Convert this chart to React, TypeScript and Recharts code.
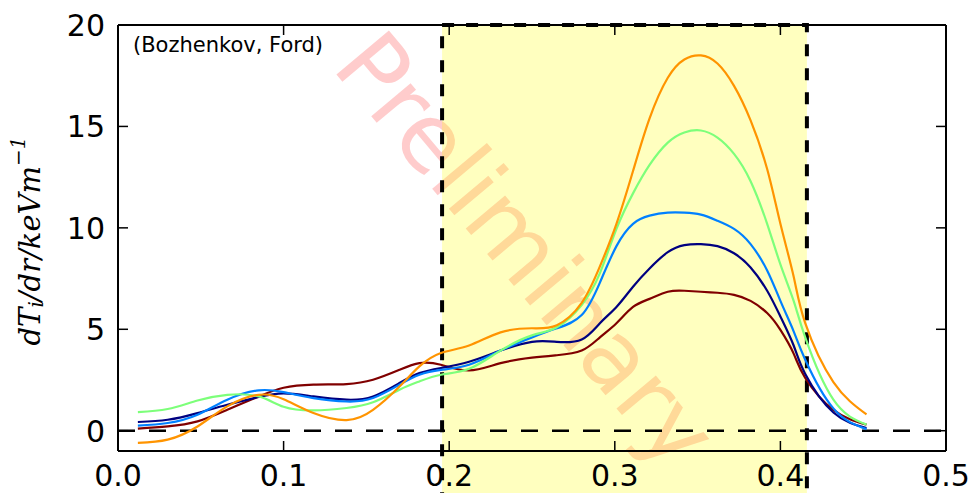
import React from 'react';
import { LineChart, Line, XAxis, YAxis, ReferenceArea, ReferenceLine } from 'recharts';

// radius grid (normalised) shared by all profiles
const radius = [
  0.012, 0.03, 0.048, 0.066, 0.085, 0.1, 0.118, 0.138, 0.154, 0.17, 0.182,
  0.195, 0.212, 0.231, 0.25, 0.265, 0.28, 0.291, 0.301, 0.311, 0.321, 0.332,
  0.342, 0.352, 0.362, 0.372, 0.382, 0.392, 0.4, 0.408, 0.415, 0.432, 0.452,
];

// dTi/dr profiles, one per colour of the jet map
const profileOrange = [
  -0.6, -0.44, 0.21, 1.2, 1.77, 1.55, 0.87, 0.52, 1.03, 2.18, 3.17,
  3.83, 4.2, 4.85, 5.05, 5.2, 6.3, 8.1, 10.2, 12.8, 15.4, 17.4,
  18.3, 18.5, 18.1, 17.0, 15.3, 12.9, 10.2, 7.6, 5.3, 2.4, 0.8,
];
const profileGreen = [
  0.92, 1.07, 1.49, 1.77, 1.69, 1.18, 1.0, 1.12, 1.4, 2.02, 2.43,
  2.76, 3.05, 3.95, 4.7, 5.1, 6.2, 7.77, 9.95, 11.7, 13.1, 14.2,
  14.7, 14.8, 14.45, 13.65, 12.3, 10.2, 8.2, 6.4, 4.6, 1.53, 0.3,
];
const profileBlue = [
  0.25, 0.38, 0.79, 1.53, 1.99, 1.9, 1.61, 1.44, 1.61, 2.27, 2.76,
  3.0, 3.25, 3.95, 4.6, 5.05, 5.7, 7.3, 9.1, 10.2, 10.6, 10.75,
  10.75, 10.65, 10.35, 9.95, 9.2, 7.9, 6.4, 4.9, 3.5, 1.1, 0.08,
];
const profileNavy = [
  0.43, 0.54, 0.87, 1.28, 1.66, 1.84, 1.69, 1.53, 1.69, 2.35, 2.84,
  3.09, 3.4, 3.95, 4.38, 4.38, 4.5, 5.3, 6.1, 7.1, 8.0, 8.8,
  9.15, 9.2, 9.1, 8.75, 8.05, 6.9, 5.63, 4.2, 2.8, 0.9, 0.13,
];
const profileMaroon = [
  0.1, 0.21, 0.46, 1.03, 1.69, 2.12, 2.27, 2.3, 2.51, 3.0, 3.33,
  3.25, 2.97, 3.33, 3.6, 3.72, 3.95, 4.6, 5.3, 6.1, 6.5, 6.85,
  6.9, 6.85, 6.8, 6.7, 6.4, 5.8, 4.97, 3.8, 2.6, 1.03, 0.3,
];

const xTicks = [0, 0.1, 0.2, 0.3, 0.4, 0.5];
const yTicks = [0, 5, 10, 15, 20];
const spanStart = 0.1957;
const spanEnd = 0.416;

const rows = radius.map((r, i) => ({
  r,
  orange: profileOrange[i],
  green: profileGreen[i],
  blue: profileBlue[i],
  navy: profileNavy[i],
  maroon: profileMaroon[i],
}));

const series = [
  { key: 'maroon', color: '#800000' },
  { key: 'navy', color: '#000080' },
  { key: 'blue', color: '#0080ff' },
  { key: 'green', color: '#7dff7a' },
  { key: 'orange', color: '#ff9400' },
];

const FONT = 'DejaVu Sans';
const TICK_LEN = 10;
// plot box edges (from margins + axis sizes below)
const PLOT_TOP = 25;
const PLOT_RIGHT = 946;

// bottom labels + inward ticks on bottom and top spines
function BottomTick(props: any) {
  const { x, y, payload } = props;
  return (
    <g>
      <line x1={x} x2={x} y1={y - 14} y2={y - 14 - TICK_LEN} stroke="#000" strokeWidth={1.5} />
      <line x1={x} x2={x} y1={PLOT_TOP} y2={PLOT_TOP + TICK_LEN} stroke="#000" strokeWidth={1.5} />
      <text x={x} y={y} dy="0.71em" textAnchor="middle" fontSize={30} fontFamily={FONT} fill="#000">
        {Number(payload.value).toFixed(1)}
      </text>
    </g>
  );
}

// left labels + inward ticks on left and right spines
function LeftTick(props: any) {
  const { x, y, payload } = props;
  return (
    <g>
      <line x1={x + 13} x2={x + 13 + TICK_LEN} y1={y} y2={y} stroke="#000" strokeWidth={1.5} />
      <line x1={PLOT_RIGHT} x2={PLOT_RIGHT - TICK_LEN} y1={y} y2={y} stroke="#000" strokeWidth={1.5} />
      <text x={x} y={y} dy="0.36em" textAnchor="end" fontSize={30} fontFamily={FONT} fill="#000">
        {payload.value}
      </text>
    </g>
  );
}

export default function App() {
  const spine = { stroke: '#000', strokeWidth: 2 };
  return (
    <div style={{ position: 'absolute', left: 0, top: 0, width: 971, height: 493, background: '#fff' }}>
      <LineChart width={971} height={493} data={rows} margin={{ top: 0, right: 0, bottom: 0, left: 0 }}>
        <XAxis
          dataKey="r"
          type="number"
          domain={[0, 0.5]}
          ticks={xTicks}
          height={42}
          tickSize={0}
          tickMargin={14}
          tickLine={false}
          axisLine={spine}
          tick={BottomTick}
          interval={0}
        />
        <XAxis xAxisId="top" orientation="top" height={25} tick={false} tickLine={false} axisLine={spine} />
        <YAxis
          type="number"
          domain={[-1, 20]}
          ticks={yTicks}
          width={118}
          tickSize={0}
          tickMargin={13}
          tickLine={false}
          axisLine={spine}
          tick={LeftTick}
          interval={0}
        />
        <YAxis yAxisId="right" orientation="right" width={25} tick={false} tickLine={false} axisLine={spine} />
        <ReferenceArea
          x1={spanStart}
          x2={spanEnd}
          y1={-4}
          y2={20}
          ifOverflow="visible"
          fill="#ffff00"
          fillOpacity={0.25}
          stroke="#000"
          strokeWidth={4}
          strokeDasharray="12 12"
        />
        <ReferenceLine y={0} stroke="#000" strokeWidth={2.5} strokeDasharray="17 14" />
        <text
          x={526}
          y={250}
          transform="rotate(50 526 250)"
          textAnchor="middle"
          dominantBaseline="central"
          fontFamily={FONT}
          fontSize={94}
          fill="#ff0000"
          fillOpacity={0.2}
        >
          Preliminary
        </text>
        <text x={133} y={52} fontFamily={FONT} fontSize={21} fill="#000">
          (Bozhenkov, Ford)
        </text>
        <text
          x={30}
          y={241}
          transform="rotate(-90 30 241)"
          textAnchor="middle"
          dominantBaseline="central"
          fontFamily="DejaVu Serif"
          fontStyle="italic"
          fontSize={29}
          fill="#000"
        >
          dT<tspan dy={6} fontSize={20}>i</tspan>
          <tspan dy={-6}>/dr/keVm</tspan>
          <tspan dy={-12} fontSize={20}>−1</tspan>
        </text>
        {series.map((s) => (
          <Line
            key={s.key}
            dataKey={s.key}
            type="natural"
            stroke={s.color}
            strokeWidth={2.2}
            dot={false}
            activeDot={false}
            isAnimationActive={false}
          />
        ))}
      </LineChart>
    </div>
  );
}
